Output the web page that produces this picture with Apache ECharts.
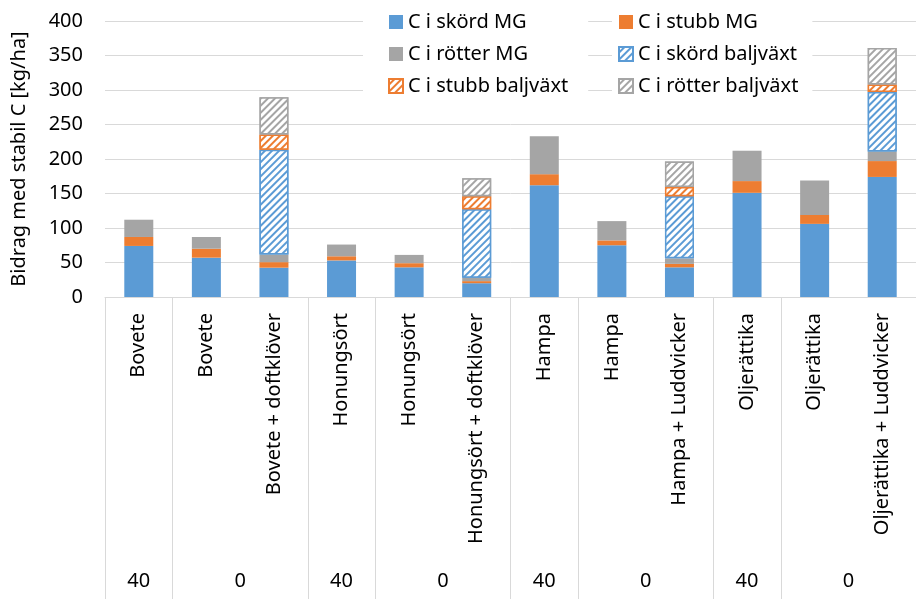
<!DOCTYPE html>
<html>
<head>
<meta charset="utf-8">
<script src="https://cdn.jsdelivr.net/npm/echarts@6/dist/echarts.min.js"></script>
<style>
  html, body { margin: 0; padding: 0; background: #fff; }
  #chart { width: 916px; height: 599px; }
</style>
</head>
<body>
<div id="chart"></div>
<script>
// kategorier (gröda / blandning)
const categories = ['Bovete', 'Bovete', 'Bovete + doftklöver', 'Honungsört', 'Honungsört', 'Honungsört + doftklöver',
  'Hampa', 'Hampa', 'Hampa + Luddvicker', 'Oljerättika', 'Oljerättika', 'Oljerättika + Luddvicker']
// andra nivån på x-axeln
const groupLabels = ['40', '0', '40', '0', '40', '0', '40', '0']
const groupCenters = [0.5, 2, 3.5, 5, 6.5, 8, 9.5, 11]
const groupBounds = [0, 1, 3, 4, 6, 7, 9, 10, 12]

// värden kg/ha
const skordMG = [74, 57, 42.5, 53, 43, 20, 162, 75, 43, 151, 106, 174]
const stubbMG = [13, 13, 8, 6, 6, 3, 16, 7, 5, 17, 13, 23]
const rotterMG = [25, 17, 11, 17, 12, 5, 55, 28, 8, 44, 50, 14]
const skordBalj = [null, null, 152, null, null, 99, null, null, 90, null, null, 86]
const stubbBalj = [null, null, 22, null, null, 19, null, null, 13.5, null, null, 11]
const rotterBalj = [null, null, 54, null, null, 26, null, null, 37, null, null, 53]

const yTicks = [0, 400, 50]

const blue = '#5b9bd5'
const orange = '#ed7d31'
const gray = '#a5a5a5'
const font = 'Noto Sans'

const hatch = {
  symbol: 'rect',
  symbolSize: 1,
  color: '#fff',
  dashArrayX: [1, 0],
  dashArrayY: [3, 2],
  rotation: -Math.PI / 4
}

const solid = (name, data, color) => ({
  name, data, type: 'bar', stack: 'c', barWidth: 29,
  itemStyle: { color }
})
const hatched = (name, data, color) => ({
  name, data, type: 'bar', stack: 'c', barWidth: 29,
  itemStyle: { color, borderColor: color, borderWidth: 1.5, decal: hatch }
})

const legendText = { fontFamily: font, fontSize: 20, color: '#000' }

const chart = echarts.init(document.getElementById('chart'))
chart.setOption({
  animation: false,
  textStyle: { fontFamily: font },
  grid: { left: 105, right: -10, top: 21, bottom: 302 },
  legend: [
    {
      data: ['C i skörd MG', 'C i rötter MG', 'C i stubb baljväxt'],
      orient: 'vertical', left: 363, top: 0,
      padding: [12, 20, 14, 25], itemGap: 12,
      itemWidth: 14, itemHeight: 14, icon: 'rect',
      backgroundColor: '#fff', textStyle: legendText
    },
    {
      data: ['C i stubb MG', 'C i skörd baljväxt', 'C i rötter baljväxt'],
      orient: 'vertical', left: 612, top: 0,
      padding: [12, 14, 14, 6], itemGap: 12,
      itemWidth: 14, itemHeight: 14, icon: 'rect',
      backgroundColor: '#fff', textStyle: legendText
    }
  ],
  xAxis: [
    {
      type: 'category',
      data: categories,
      axisLine: { lineStyle: { color: '#d9d9d9', width: 1 } },
      axisTick: { show: false },
      axisLabel: { rotate: 90, margin: 16, fontSize: 20, color: '#000', fontFamily: font, interval: 0 }
    },
    {
      type: 'value',
      min: 0, max: 12,
      position: 'bottom',
      axisLine: { show: false },
      splitLine: { show: false },
      axisTick: {
        show: true, length: 310, customValues: groupBounds,
        lineStyle: { color: '#d9d9d9', width: 1 }
      },
      axisLabel: {
        customValues: groupCenters, margin: 274, fontSize: 20, color: '#000', fontFamily: font,
        formatter: (v) => groupLabels[groupCenters.indexOf(v)]
      }
    }
  ],
  yAxis: {
    type: 'value',
    min: yTicks[0], max: yTicks[1], interval: yTicks[2],
    name: 'Bidrag med stabil C [kg/ha]',
    nameLocation: 'middle',
    nameGap: 76,
    nameTextStyle: { fontSize: 20, color: '#000', fontFamily: font },
    axisLine: { show: false },
    axisTick: { show: false },
    axisLabel: { fontSize: 20, color: '#000', margin: 22, fontFamily: font },
    splitLine: { lineStyle: { color: '#d9d9d9', width: 1 } }
  },
  series: [
    solid('C i skörd MG', skordMG, blue),
    solid('C i stubb MG', stubbMG, orange),
    solid('C i rötter MG', rotterMG, gray),
    hatched('C i skörd baljväxt', skordBalj, blue),
    hatched('C i stubb baljväxt', stubbBalj, orange),
    hatched('C i rötter baljväxt', rotterBalj, gray)
  ]
})
</script>
</body>
</html>
